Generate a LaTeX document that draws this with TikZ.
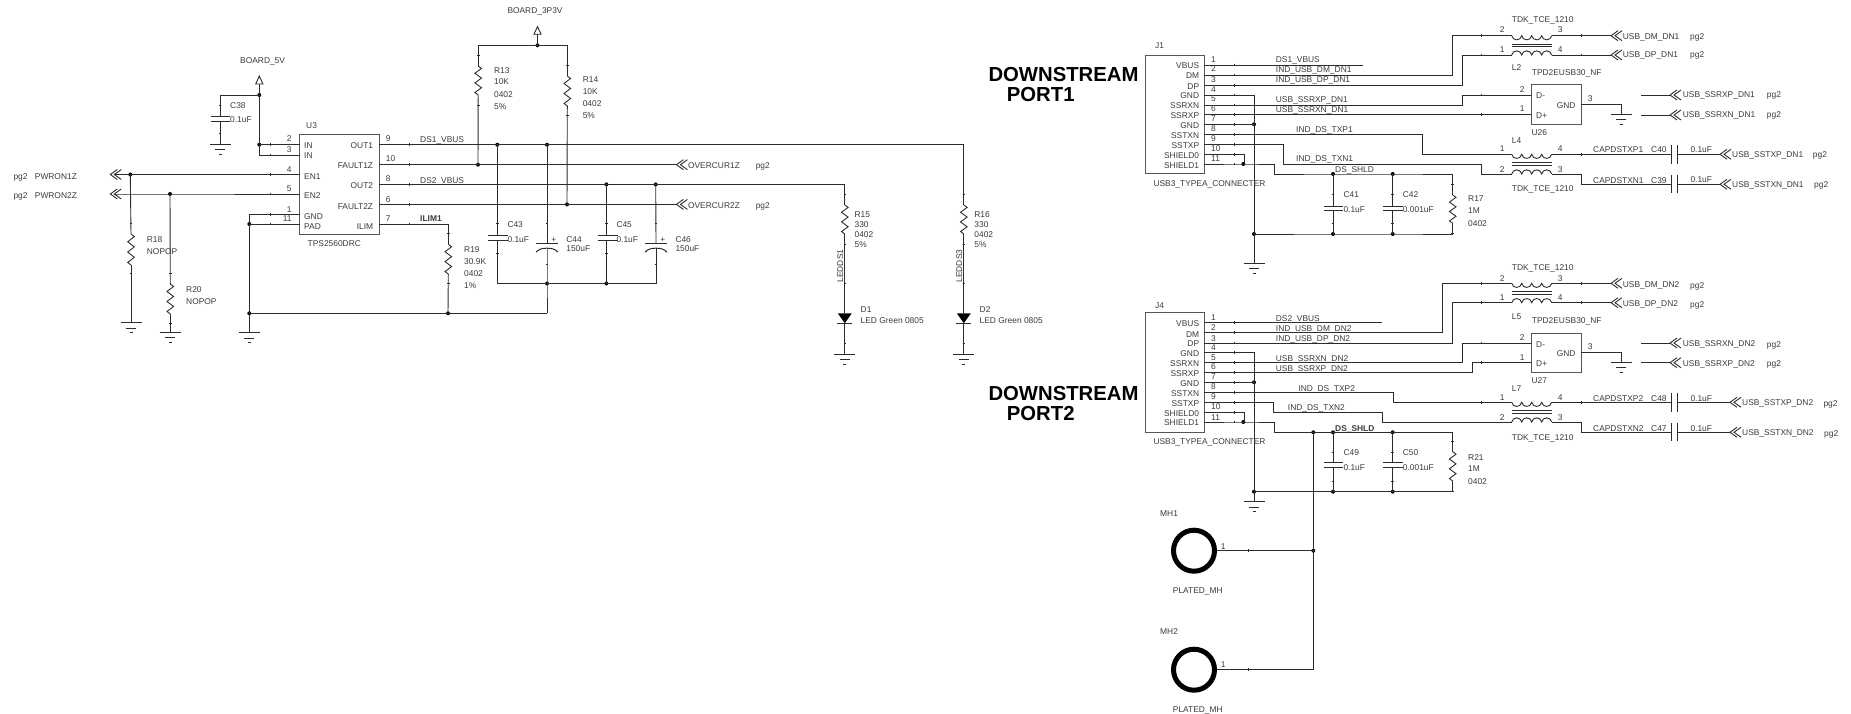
\documentclass[tikz,border=0pt]{standalone}
\usepackage{fontspec}
\setmainfont{Liberation Sans}
\definecolor{ink}{HTML}{3a3a3a}
\definecolor{wr}{HTML}{2c2c2c}
\newcounter{lblno}
\tikzset{
  wire/.style={draw=wr,line width=0.9pt},
  plate/.style={draw=wr,line width=1pt},
  tickm/.style={draw=wr,line width=0.7pt},
  icbox/.style={draw=wr!80,line width=1pt,inner sep=0pt,fill=none},
  lbl/.style={text=ink,inner sep=0pt,font=\fontsize{8.4}{9}\selectfont,text height=6pt,text depth=0pt},
  big/.style={text=black,inner sep=0pt,font=\fontsize{20.3}{22}\selectfont\bfseries,anchor=west},
}
\newcommand{\txtL}[3]{\stepcounter{lblno}\node[lbl,anchor=west] (lbl\arabic{lblno}) at (#1,#2) {#3};}
\newcommand{\txtR}[3]{\stepcounter{lblno}\node[lbl,anchor=east] (lbl\arabic{lblno}) at (#1,#2) {#3};}
\newcommand{\cpt}[3]{\coordinate (#1) at (#2,#3);}
\newcommand{\junc}[3]{\coordinate (#1) at (#2,#3);\fill[black] (#1) circle (2);}
\newcommand{\resv}[4]{\coordinate (#1-t) at (#2,#3);\coordinate (#1-b) at (#2,#4);
  \pgfmathsetmacro{\rh}{(#4-#3)/12}
  \draw[wire] (#1-t) -- ++(3.3,\rh) -- ++(-6.6,2*\rh) -- ++(6.6,2*\rh) -- ++(-6.6,2*\rh) -- ++(6.6,2*\rh) -- ++(-6.6,2*\rh) -- (#1-b);}
\newcommand{\capv}[6]{\coordinate (#1-t) at (#2,#3);\coordinate (#1-b) at (#2,#4);
  \draw[plate] (#5,#3) -- (#6,#3) (#5,#4) -- (#6,#4);}
\newcommand{\pcap}[3]{\coordinate (#1-t) at (#2,#3);\coordinate (#1-b) at ($(#2,#3)+(0,4.5)$);
  \draw[plate] ($(#2,#3)+(-11,0)$) -- ($(#2,#3)+(11,0)$);
  \draw[plate] ($(#2,#3)+(-11,8.5)$) .. controls +(3,-3.5) and +(-4,0) .. (#1-b) .. controls +(4,0) and +(-3,-3.5) .. ($(#2,#3)+(11,8.5)$);
  \txtL{#2+4.2}{#3-4}{+}}
\newcommand{\caph}[5]{\coordinate (#1-l) at (1671.7,#2);\coordinate (#1-r) at (1677.7,#2);
  \draw[plate] (1671.7,#3) -- (1671.7,#4) (1677.7,#3) -- (1677.7,#4);}
\newcommand{\gnd}[3]{\coordinate (#1) at (#2,#3);
  \draw[plate] ($(#1)+(-10.5,0)$) -- ($(#1)+(10.5,0)$) ($(#1)+(-5,5.3)$) -- ($(#1)+(5,5.3)$) ($(#1)+(-1.5,10)$) -- ($(#1)+(1.5,10)$);}
\newcommand{\chev}[3]{\coordinate (#1-l) at (#2,#3);\coordinate (#1-m) at ($(#2,#3)+(4,0)$);
  \draw[wire] ($(#2,#3)+(7,-5)$) -- (#1-l) -- ($(#2,#3)+(7,5)$) ($(#2,#3)+(11,-5)$) -- (#1-m) -- ($(#2,#3)+(11,5)$);}
\newcommand{\pwr}[4]{\coordinate (#1) at (#2,#4);
  \draw[wire,line join=miter] (#2,#3) -- ($(#2,#4)+(3.6,0)$) -- ($(#2,#4)+(-3.6,0)$) -- cycle;}
\newcommand{\bumps}[2]{\draw[wire] (#1) .. controls +(1,#2) and +(-1,#2) .. ++(10,0) .. controls +(1,#2) and +(-1,#2) .. ++(10,0) .. controls +(1,#2) and +(-1,#2) .. ++(10,0) .. controls +(1,#2) and +(-1,#2) .. ++(10,0);}
\newcommand{\coils}[3]{\coordinate (#1-tl) at (1511.7,#2);\coordinate (#1-tr) at (1551.7,#2);
  \coordinate (#1-bl) at (1511.7,#3);\coordinate (#1-br) at (1551.7,#3);
  \bumps{#1-tl}{5.5}\bumps{#1-bl}{-5.5}
  \pgfmathsetmacro{\ba}{(#2+#3)/2-1.2}\pgfmathsetmacro{\bb}{(#2+#3)/2+1.2}
  \draw[plate] (1511.7,\ba) -- (1551.7,\ba) (1511.7,\bb) -- (1551.7,\bb);}
% small pin ticks on wires
\newcommand{\hticks}[2]{\foreach \yy in {#2}{\draw[tickm] (#1,\yy-1.3) -- (#1,\yy+1.3);}}
\newcommand{\vticks}[2]{\foreach \yy in {#2}{\draw[tickm] (#1-1.3,\yy) -- (#1+1.3,\yy);}}
\usetikzlibrary{calc}
\begin{document}
\begin{tikzpicture}[x=1pt,y=-1pt]
\useasboundingbox (0,0) rectangle (1851,714);
%% ---------- U3 -----------
\node[icbox,minimum width=79.5pt,minimum height=99.3pt] (U3) at (339.25,184.35) {};
\cpt{U3in1}{299.5}{144.7}\cpt{U3in2}{299.5}{155}\cpt{U3en1}{299.5}{174.5}\cpt{U3en2}{299.5}{194}\cpt{U3gnd}{299.5}{214.5}\cpt{U3pad}{299.5}{224}
\cpt{U3o1}{379}{144.7}\cpt{U3f1}{379}{164.7}\cpt{U3o2}{379}{184.4}\cpt{U3f2}{379}{204.4}\cpt{U3il}{379}{224}
\txtL{304}{146}{IN}\txtL{304}{156}{IN}\txtL{304}{176}{EN1}\txtL{304}{196}{EN2}\txtL{304}{216}{GND}\txtL{304}{226}{PAD}
\txtR{373.3}{146}{OUT1}\txtR{373.3}{165.7}{FAULT1Z}\txtR{373.3}{186}{OUT2}\txtR{373.3}{206}{FAULT2Z}\txtR{373.3}{226}{ILIM}
\txtR{291.7}{139}{2}\txtR{291.7}{150}{3}\txtR{291.7}{169}{4}\txtR{291.7}{189}{5}\txtR{291.7}{209}{1}\txtR{291.7}{219}{11}
\txtL{385.7}{139}{9}\txtL{385.7}{159}{10}\txtL{385.7}{179}{8}\txtL{385.7}{199}{6}\txtL{385.7}{219}{7}
\txtL{306}{126}{U3}\txtL{307.5}{243}{TPS2560DRC}
\txtL{240}{61}{BOARD\_5V}\txtL{507.3}{11}{BOARD\_3P3V}
%% 5V
\pwr{p5}{259.3}{76}{84}
\junc{j5a}{259.3}{95}\junc{j5b}{259.3}{144.7}
\capv{C38}{220}{117}{122}{211}{230}
\gnd{g38}{220}{144.3}
\draw[wire] (p5) -- (j5a) -- (j5b) -- (U3in1);
\draw[wire] (j5b) |- (U3in2);
\draw[wire] (j5a) -| (C38-t);
\draw[wire] (C38-b) -- (g38);
\txtL{230}{106}{C38}\txtL{230}{120}{0.1uF}
%% PWRON
\chev{ch1}{110.3}{174.5}\chev{ch2}{110.3}{194}
\junc{jp1}{130.3}{174.5}\junc{jp2}{170}{194}
\draw[wire] (ch1-m) -- (jp1) -- (U3en1);
\draw[wire] (ch2-m) -- (jp2) -- (U3en2);
\txtL{13.3}{176}{pg2}\txtL{34.7}{176}{PWRON1Z}
\txtL{13.3}{196}{pg2}\txtL{34.7}{196}{PWRON2Z}
\resv{R18}{131}{234}{265}
\resv{R20}{170.3}{284}{314}
\gnd{g18}{131}{322.7}\gnd{g20}{170.3}{332.3}
\draw[wire] (jp1) -- (R18-t);\draw[wire] (R18-b) -- (g18);
\draw[wire] (jp2) -- (R20-t);\draw[wire] (R20-b) -- (g20);
\txtL{146.7}{239}{R18}\txtL{146.7}{251}{NOPOP}
\txtL{186}{289}{R20}\txtL{186}{301}{NOPOP}
%% GND of U3
\junc{jg1}{249.3}{224}\junc{jg2}{249.3}{313.3}\junc{jg3}{448}{313.3}
\gnd{g3}{249.3}{332.7}
\cpt{cb1}{547}{313.3}
\draw[wire] (U3pad) -- (jg1) -- (jg2) -- (g3);
\draw[wire] (U3gnd) -| (jg1);
\draw[wire] (jg2) -- (jg3) -- (cb1);
%% ILIM
\resv{R19}{448.3}{244.3}{274}
\draw[wire] (U3il) -| (R19-t);\draw[wire] (R19-b) -- (jg3);
\txtL{420}{219}{\bfseries ILIM1}
\txtL{464}{249}{R19}\txtL{464}{261}{30.9K}\txtL{464}{273}{0402}\txtL{464}{285}{1\%}
%% 3V3
\pwr{p3}{537.5}{26.7}{34.3}
\junc{j3}{537.5}{45.3}
\cpt{j3l}{478.2}{45.3}\cpt{j3r}{567.3}{45.3}
\draw[wire] (p3) -- (j3);\draw[wire] (j3l) -- (j3r);
\resv{R13}{478.2}{66}{95}\resv{R14}{567.3}{76}{106}
\draw[wire] (j3l) -- (R13-t);\draw[wire] (j3r) -- (R14-t);
\junc{jf1}{478}{164.7}\junc{jf2}{567}{204.4}
\draw[wire] (R13-b) -- (jf1);\draw[wire] (R14-b) -- (jf2);
\txtL{493.9}{71}{R13}\txtL{493.9}{82}{10K}\txtL{493.9}{95}{0402}\txtL{493.9}{106.3}{5\%}
\txtL{582.6}{80}{R14}\txtL{582.6}{92}{10K}\txtL{582.6}{104}{0402}\txtL{582.6}{116}{5\%}
\chev{ov1}{676.4}{164.7}\chev{ov2}{676.4}{204.4}
\draw[wire] (U3f1) -- (jf1) -- (ov1-l);
\draw[wire] (U3f2) -- (jf2) -- (ov2-l);
\txtL{687.9}{165}{OVERCUR1Z}\txtL{755.6}{165}{pg2}
\txtL{687.9}{205}{OVERCUR2Z}\txtL{755.6}{205}{pg2}
%% VBUS
\txtL{420}{140}{DS1\_VBUS}\txtL{420}{180}{DS2\_VBUS}
\junc{jv1}{497.3}{144.7}\junc{jv2}{547}{144.7}\junc{jv3}{606.4}{184.4}\junc{jv4}{655.7}{184.4}
\cpt{cvr1}{963.8}{144.7}\cpt{cvr2}{844.8}{184.4}
\draw[wire] (U3o1) -- (jv1) -- (jv2) -- (cvr1);
\draw[wire] (U3o2) -- (jv3) -- (jv4) -- (cvr2);
\capv{C43}{497.3}{235.3}{240.7}{488}{508}
\capv{C45}{606.4}{235.3}{240.7}{598}{618}
\pcap{C44}{547}{243.7}\pcap{C46}{656}{243.7}
\cpt{bl}{497.3}{283.5}\junc{jb1}{547}{283.5}\junc{jb2}{606.4}{283.5}\cpt{br}{656}{283.5}
\draw[wire] (jv1) -- (C43-t);\draw[wire] (C43-b) -- (bl) -- (jb1) -- (jb2) -- (br);
\draw[wire] (jv2) -- (C44-t);\draw[wire] (C44-b) -- (jb1) -- (cb1);
\draw[wire] (jv3) -- (C45-t);\draw[wire] (C45-b) -- (jb2);
\draw[wire] (jv4) -- (C46-t);\draw[wire] (C46-b) -- (br);
\txtL{507.3}{224}{C43}\txtL{507.3}{239}{0.1uF}
\txtL{566.2}{239}{C44}\txtL{566.2}{248}{150uF}
\txtL{616.3}{224}{C45}\txtL{616.3}{239}{0.1uF}
\txtL{675.3}{239}{C46}\txtL{675.3}{248}{150uF}
%% LEDs
\resv{R15}{844.8}{205}{234}\resv{R16}{963.8}{205}{234}
\draw[wire] (cvr2) -- (R15-t);\draw[wire] (cvr1) -- (R16-t);
\txtL{854.4}{215}{R15}\txtL{854.4}{224}{330}\txtL{854.4}{234}{0402}\txtL{854.4}{244}{5\%}
\txtL{974.2}{215}{R16}\txtL{974.2}{224}{330}\txtL{974.2}{234}{0402}\txtL{974.2}{244}{5\%}
\node[lbl,rotate=90,anchor=center] (led1) at (840.2,266) {LEDDS1};
\node[lbl,rotate=90,anchor=center] (led3) at (959.2,266) {LEDDS3};
\foreach \nm/\xx in {D1/844.8,D2/963.8}{
  \cpt{\nm-t}{\xx}{313.3}\cpt{\nm-b}{\xx}{323.3}
  \fill[black] ($(\nm-t)+(-7,0)$) -- ($(\nm-t)+(7,0)$) -- (\nm-b) -- cycle;
  \draw[plate] ($(\nm-b)+(-7.5,0)$) -- ($(\nm-b)+(7.5,0)$);
}
\gnd{gd1}{844.8}{354}\gnd{gd2}{963.8}{354}
\draw[wire] (R15-b) -- (D1-t);\draw[wire] (D1-b) -- (gd1);
\draw[wire] (R16-b) -- (D2-t);\draw[wire] (D2-b) -- (gd2);
\txtL{860.5}{309}{D1}\txtL{860.5}{320}{LED Green 0805}
\txtL{979.5}{309}{D2}\txtL{979.5}{320}{LED Green 0805}
%% ---------- J1 -----------
\node[big] (t1) at (988.3,75) {DOWNSTREAM};
\node[big] (t2) at (1006.7,94.7) {PORT1};
\node[icbox,minimum width=59.3pt,minimum height=118.7pt] (J1) at (1174.65,114.65) {};
\txtL{1155}{46}{J1}\txtL{1153.3}{183}{USB3\_TYPEA\_CONNECTER}
\cpt{J1a}{1204.3}{65}\cpt{J1b}{1204.3}{75}\cpt{J1c}{1204.3}{85.3}\cpt{J1d}{1204.3}{95}\cpt{J1e}{1204.3}{105}\cpt{J1f}{1204.3}{114.7}\cpt{J1g}{1204.3}{124.3}\cpt{J1h}{1204.3}{134.7}\cpt{J1i}{1204.3}{144.3}\cpt{J1j}{1204.3}{154.3}\cpt{J1k}{1204.3}{164}
\txtR{1199.3}{66}{VBUS}\txtR{1199.3}{76}{DM}\txtR{1199.3}{86.7}{DP}\txtR{1199.3}{96}{GND}\txtR{1199.3}{106}{SSRXN}\txtR{1199.3}{115.7}{SSRXP}\txtR{1199.3}{126}{GND}\txtR{1199.3}{136}{SSTXN}\txtR{1199.3}{146}{SSTXP}\txtR{1199.3}{156}{SHIELD0}\txtR{1199.3}{166}{SHIELD1}
\txtL{1211}{60}{1}\txtL{1211}{69}{2}\txtL{1211}{80}{3}\txtL{1211}{90}{4}\txtL{1211}{99}{5}\txtL{1211}{109}{6}\txtL{1211}{119}{7}\txtL{1211}{129}{8}\txtL{1211}{139}{9}\txtL{1211}{149}{10}\txtL{1211}{159}{11}
\txtL{1275.7}{60}{DS1\_VBUS}\txtL{1275.7}{70}{IND\_USB\_DM\_DN1}\txtL{1275.7}{80}{IND\_USB\_DP\_DN1}\txtL{1275.7}{100}{USB\_SSRXP\_DN1}\txtL{1275.7}{110}{USB\_SSRXN\_DN1}
\txtL{1296}{130}{IND\_DS\_TXP1}\txtL{1296}{159}{IND\_DS\_TXN1}\txtL{1335}{169}{DS\_SHLD}
\cpt{v1e}{1362.7}{65}
\draw[wire] (J1a) -- (v1e);
\coils{L2}{35.7}{55}
\coils{L4}{154.3}{174}
\draw[wire] (J1b) -| (1452.3,35.7) -- (L2-tl);
\draw[wire] (J1c) -| (1462.3,55) -- (L2-bl);
%% U26
\node[icbox,minimum width=50pt,minimum height=39.7pt] (U26) at (1556,104.85) {};
\cpt{U26a}{1531}{95}\cpt{U26b}{1531}{114.7}\cpt{U26c}{1581}{104.7}
\draw[wire] (J1e) -| (1462.3,95) -- (U26a);
\draw[wire] (J1f) -- (U26b);
\gnd{g26}{1621}{114.3}
\draw[wire] (U26c) -| (g26);
\txtL{1536}{96}{D-}\txtL{1536}{115.7}{D+}\txtR{1575.7}{105.7}{GND}\txtL{1531.3}{133}{U26}
\txtL{1519.7}{90}{2}\txtL{1519.7}{109}{1}\txtL{1587.7}{99}{3}
\txtL{1531.7}{72.3}{TPD2EUSB30\_NF}
\txtL{1511.7}{19.3}{TDK\_TCE\_1210}\txtL{1511.7}{67.7}{L2}
\txtL{1499.7}{29.7}{2}\txtL{1557.7}{29.7}{3}\txtL{1499.7}{49.7}{1}\txtL{1557.7}{49.7}{4}
\chev{u1}{1611}{35.7}\chev{u2}{1611}{55}
\draw[wire] (L2-tr) -- (u1-l);\draw[wire] (L2-br) -- (u2-l);
\txtL{1622.7}{36.3}{USB\_DM\_DN1}\txtL{1690}{36.3}{pg2}
\txtL{1622.7}{55}{USB\_DP\_DN1}\txtL{1690}{55}{pg2}
\cpt{s1a}{1641}{95}\cpt{s1b}{1641}{115}
\chev{s1}{1670}{95}\chev{s2}{1670}{115}
\draw[wire] (s1a) -- (s1-l);\draw[wire] (s1b) -- (s2-l);
\txtL{1682.7}{95}{USB\_SSRXP\_DN1}\txtL{1766.7}{95}{pg2}
\txtL{1682.7}{115}{USB\_SSRXN\_DN1}\txtL{1766.7}{115}{pg2}
%% TX
\draw[wire] (J1h) -| (1422.7,154.3) -- (L4-tl);
\draw[wire] (J1i) -| (1283.7,164) -| (1481.7,174) -- (L4-bl);
\caph{C40}{154.3}{145}{164}{}
\caph{C39}{184.3}{175}{192.7}{}
\draw[wire] (L4-tr) -- (C40-l);
\draw[wire] (L4-br) -| (1581.3,184.3) -- (C39-l);
\chev{tx1}{1720}{154.3}\chev{tx2}{1720}{184.3}
\draw[wire] (C40-r) -- (tx1-l);\draw[wire] (C39-r) -- (tx2-l);
\txtL{1732}{155}{USB\_SSTXP\_DN1}\txtL{1812.7}{155}{pg2}
\txtL{1732}{185}{USB\_SSTXN\_DN1}\txtL{1814}{185}{pg2}
\txtL{1593}{150}{CAPDSTXP1}\txtL{1651}{150}{C40}\txtL{1690.3}{150}{0.1uF}
\txtL{1593}{180}{CAPDSTXN1}\txtL{1651}{180}{C39}\txtL{1690.3}{179.5}{0.1uF}
\txtL{1499.7}{149}{1}\txtL{1557.7}{149}{4}\txtL{1499.7}{169}{2}\txtL{1557.7}{169}{3}
\txtL{1511.7}{140.3}{L4}\txtL{1511.7}{189}{TDK\_TCE\_1210}
%% shield
\junc{js1}{1243.3}{164}
\draw[wire] (J1j) -| (1244.7,164);
\junc{ja1}{1333}{174}\junc{ja2}{1392.7}{174}\cpt{ar}{1452.7}{174}
\draw[wire] (J1k) -- (js1) -| (1274,174) -- (ja1) -- (ja2) -- (ar);
\capv{C41}{1333}{206}{210.7}{1324}{1342.7}
\capv{C42}{1392.7}{206}{210.7}{1383.3}{1402.7}
\resv{R17}{1452.7}{195}{223.3}
\junc{jk0}{1254}{234}\junc{jk1}{1333}{234}\junc{jk2}{1392.7}{234}\cpt{kr}{1452.7}{234}
\draw[wire] (jk0) -- (jk1) -- (jk2) -- (kr);
\draw[wire] (ja1) -- (C41-t);\draw[wire] (C41-b) -- (jk1);
\draw[wire] (ja2) -- (C42-t);\draw[wire] (C42-b) -- (jk2);
\draw[wire] (ar) -- (R17-t);\draw[wire] (R17-b) -- (kr);
\junc{jn1}{1254}{124.3}
\gnd{g1}{1254}{263.3}
\draw[wire] (J1d) -| (jn1) -- (jk0) -- (g1);
\draw[wire] (J1g) -- (jn1);
\txtL{1343.3}{194}{C41}\txtL{1343.3}{209}{0.1uF}
\txtL{1402.7}{194}{C42}\txtL{1402.7}{209}{0.001uF}
\txtL{1468}{198.7}{R17}\txtL{1468}{210.7}{1M}\txtL{1468}{223}{0402}
%% ---------- J4 -----------
\node[big] (t3) at (988.3,393.7) {DOWNSTREAM};
\node[big] (t4) at (1006.7,413.7) {PORT2};
\node[icbox,minimum width=59.3pt,minimum height=119.6pt] (J4) at (1174.65,372.5) {};
\txtL{1155}{305}{J4}\txtL{1153.3}{441}{USB3\_TYPEA\_CONNECTER}
\cpt{J4a}{1204.3}{322.7}\cpt{J4b}{1204.3}{332.7}\cpt{J4c}{1204.3}{343}\cpt{J4d}{1204.3}{352.7}\cpt{J4e}{1204.3}{362.7}\cpt{J4f}{1204.3}{372.7}\cpt{J4g}{1204.3}{382.3}\cpt{J4h}{1204.3}{392.3}\cpt{J4i}{1204.3}{402.3}\cpt{J4j}{1204.3}{412.3}\cpt{J4k}{1204.3}{422}
\txtR{1199.3}{323.7}{VBUS}\txtR{1199.3}{334.7}{DM}\txtR{1199.3}{343.7}{DP}\txtR{1199.3}{353.7}{GND}\txtR{1199.3}{363.7}{SSRXN}\txtR{1199.3}{373.7}{SSRXP}\txtR{1199.3}{383.7}{GND}\txtR{1199.3}{393.7}{SSTXN}\txtR{1199.3}{403.7}{SSTXP}\txtR{1199.3}{413.7}{SHIELD0}\txtR{1199.3}{422.7}{SHIELD1}
\txtL{1211}{317.3}{1}\txtL{1211}{327.7}{2}\txtL{1211}{338}{3}\txtL{1211}{347.3}{4}\txtL{1211}{357}{5}\txtL{1211}{366.7}{6}\txtL{1211}{376.7}{7}\txtL{1211}{386.7}{8}\txtL{1211}{396.7}{9}\txtL{1211}{406.7}{10}\txtL{1211}{417}{11}
\txtL{1275.7}{318}{DS2\_VBUS}\txtL{1275.7}{328}{IND\_USB\_DM\_DN2}\txtL{1275.7}{338}{IND\_USB\_DP\_DN2}\txtL{1275.7}{358}{USB\_SSRXN\_DN2}\txtL{1275.7}{368}{USB\_SSRXP\_DN2}
\txtL{1298.3}{388}{IND\_DS\_TXP2}\txtL{1287.7}{407}{IND\_DS\_TXN2}\txtL{1335}{428}{\bfseries DS\_SHLD}
\cpt{v2e}{1382.3}{322.7}
\draw[wire] (J4a) -- (v2e);
\coils{L5}{283.3}{302.7}
\coils{L7}{402.3}{422}
\draw[wire] (J4b) -| (1442.7,283.3) -- (L5-tl);
\draw[wire] (J4c) -| (1452.7,302.7) -- (L5-bl);
%% U27
\node[icbox,minimum width=50pt,minimum height=39.4pt] (U27) at (1556,353) {};
\cpt{U27a}{1531}{343}\cpt{U27b}{1531}{362.7}\cpt{U27c}{1581}{352.7}
\draw[wire] (J4e) -| (1462.3,343) -- (U27a);
\draw[wire] (J4f) -| (1472.3,362.7) -- (U27b);
\gnd{g27}{1621}{362.3}
\draw[wire] (U27c) -| (g27);
\txtL{1536}{344.3}{D-}\txtL{1536}{363.7}{D+}\txtR{1575.7}{353.7}{GND}\txtL{1531.3}{380.7}{U27}
\txtL{1519.7}{337.7}{2}\txtL{1519.7}{357.3}{1}\txtL{1587.7}{346.7}{3}
\txtL{1531.7}{320}{TPD2EUSB30\_NF}
\txtL{1511.7}{267.3}{TDK\_TCE\_1210}\txtL{1511.7}{316}{L5}
\txtL{1499.7}{278}{2}\txtL{1557.7}{278}{3}\txtL{1499.7}{297.7}{1}\txtL{1557.7}{297.7}{4}
\chev{u3}{1611}{283.3}\chev{u4}{1611}{302.7}
\draw[wire] (L5-tr) -- (u3-l);\draw[wire] (L5-br) -- (u4-l);
\txtL{1622.7}{284}{USB\_DM\_DN2}\txtL{1690}{285}{pg2}
\txtL{1622.7}{303}{USB\_DP\_DN2}\txtL{1690}{304}{pg2}
\cpt{s3a}{1641}{343}\cpt{s3b}{1641}{362.7}
\chev{s3}{1670}{343}\chev{s4}{1670}{362.7}
\draw[wire] (s3a) -- (s3-l);\draw[wire] (s3b) -- (s4-l);
\txtL{1682.7}{343.7}{USB\_SSRXN\_DN2}\txtL{1766.7}{344}{pg2}
\txtL{1682.7}{363}{USB\_SSRXP\_DN2}\txtL{1766.7}{363.7}{pg2}
%% TX2
\draw[wire] (J4h) -| (1393.3,402.3) -- (L7-tl);
\draw[wire] (J4i) -| (1273.7,412.3) -| (1382.7,422) -- (L7-bl);
\caph{C48}{402.3}{392.7}{411.7}{}
\caph{C47}{432.3}{423}{441.3}{}
\draw[wire] (L7-tr) -- (C48-l);
\draw[wire] (L7-br) -| (1581.3,432.3) -- (C47-l);
\chev{tx3}{1730}{402.3}\chev{tx4}{1730}{432.3}
\draw[wire] (C48-r) -- (tx3-l);\draw[wire] (C47-r) -- (tx4-l);
\txtL{1742}{402.3}{USB\_SSTXP\_DN2}\txtL{1823.3}{403}{pg2}
\txtL{1742}{432.3}{USB\_SSTXN\_DN2}\txtL{1824}{433}{pg2}
\txtL{1593}{398.3}{CAPDSTXP2}\txtL{1651}{398.3}{C48}\txtL{1690.3}{398.3}{0.1uF}
\txtL{1593}{428.3}{CAPDSTXN2}\txtL{1651}{428.3}{C47}\txtL{1690.3}{428}{0.1uF}
\txtL{1499.7}{397}{1}\txtL{1557.7}{397}{4}\txtL{1499.7}{417.7}{2}\txtL{1557.7}{417.7}{3}
\txtL{1511.7}{388.3}{L7}\txtL{1511.7}{437.3}{TDK\_TCE\_1210}
%% shield 2
\junc{jt1}{1243.3}{422}
\draw[wire] (J4j) -| (1244.7,422);
\junc{jm0}{1313.3}{432.3}\junc{jm1}{1333}{432.3}\junc{jm2}{1392.7}{432.3}\cpt{mr}{1452.7}{432.3}
\draw[wire] (J4k) -- (jt1) -| (1274,432.3) -- (jm0) -- (jm1) -- (jm2) -- (mr);
\capv{C49}{1333}{462.7}{467.3}{1324}{1342.7}
\capv{C50}{1392.7}{462.7}{467.3}{1383.3}{1402.7}
\resv{R21}{1452.7}{451.7}{481}
\junc{jq0}{1254}{491.7}\junc{jq1}{1333}{491.7}\junc{jq2}{1392.7}{491.7}\cpt{qr}{1452.7}{491.7}
\draw[wire] (jq0) -- (jq1) -- (jq2) -- (qr);
\draw[wire] (jm1) -- (C49-t);\draw[wire] (C49-b) -- (jq1);
\draw[wire] (jm2) -- (C50-t);\draw[wire] (C50-b) -- (jq2);
\draw[wire] (mr) -- (R21-t);\draw[wire] (R21-b) -- (qr);
\junc{jw1}{1254}{382.3}
\gnd{g4}{1254}{501.7}
\draw[wire] (J4d) -| (jw1) -- (jq0) -- (g4);
\draw[wire] (J4g) -- (jw1);
\txtL{1343.3}{452}{C49}\txtL{1343.3}{467}{0.1uF}
\txtL{1402.7}{452}{C50}\txtL{1402.7}{467}{0.001uF}
\txtL{1468}{457}{R21}\txtL{1468}{468.3}{1M}\txtL{1468}{481}{0402}
%% mounting holes
\node[draw=black,line width=5pt,circle,minimum size=41pt,inner sep=0pt] (MH1) at (1194,550.7) {};
\node[draw=black,line width=5pt,circle,minimum size=41pt,inner sep=0pt] (MH2) at (1194,669.7) {};
\junc{jh1}{1313.3}{550.7}\cpt{jh2}{1313.3}{669.7}
\draw[wire] (MH1) -- (jh1);\draw[wire] (MH2) -- (jh2);
\draw[wire] (jm0) -- (jh1) -- (jh2);
\txtL{1160}{513}{MH1}\txtL{1172.7}{590}{PLATED\_MH}\txtL{1220.7}{546}{1}
\txtL{1160}{631}{MH2}\txtL{1172.7}{709}{PLATED\_MH}\txtL{1220.7}{664.7}{1}
%% pin ticks
\hticks{1234.7}{65,75,85.3,95,105,114.7,124.3,134.7,144.3,154.3,164}
\hticks{1234.7}{322.7,332.7,343,352.7,362.7,372.7,382.3,392.3,402.3,412.3,422}
\hticks{270}{144.7,155,174.5,194,214.5,224}
\hticks{409}{144.7,164.7,184.4,204.4,224}
\hticks{1481.7}{35.7,55,95,114.7,283.3,302.7,343,362.7,402.3}
\hticks{1581.3}{35.7,55,154.3,283.3,302.7,402.3}
\hticks{1248.7}{550.7,669.7}
\vticks{131}{223.3,273.3}\vticks{170.3}{273.3,323}
\vticks{478.2}{55.3,105.3}\vticks{567.3}{65.3,115.3}
\vticks{448.3}{233.3,283.3}
\vticks{220}{105,133}\vticks{497.3}{223.3,253.3}\vticks{606.4}{223.3,253.3}
\vticks{547}{223.3,264}\vticks{656}{223.3,264}
\vticks{844.8}{194.7,244.3,283.3,343}\vticks{963.8}{194.7,244.3,283.3,343}
\vticks{1333}{194,223.3,452,481}\vticks{1392.7}{194,223.3,452,481}
\vticks{1452.7}{184,233.3,441,491}
\end{tikzpicture}
\end{document}
